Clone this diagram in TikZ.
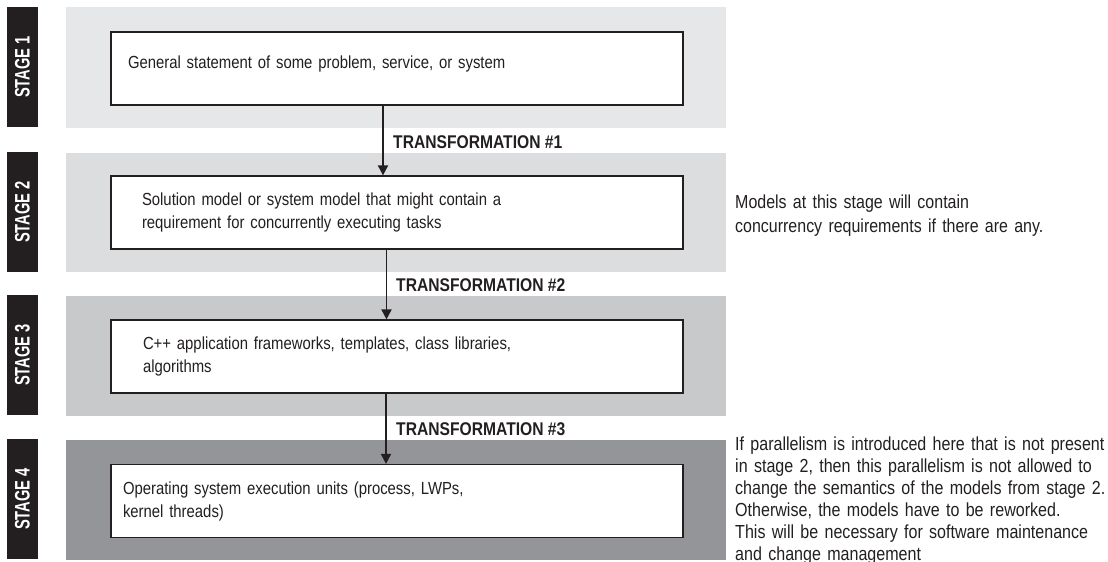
\documentclass[tikz,border=0pt]{standalone}
\usepackage{fontspec}
\setmainfont{Liberation Sans}[FakeStretch=0.85]
\newfontfamily\stagefont{Liberation Sans}[FakeStretch=0.7]
\usetikzlibrary{arrows.meta}
\definecolor{bandone}{HTML}{E6E7E8}
\definecolor{bandtwo}{HTML}{DCDDDE}
\definecolor{bandthree}{HTML}{C8C9CB}
\definecolor{bandfour}{HTML}{939598}
\definecolor{ink}{HTML}{231F20}
\tikzset{
  stagebox/.style={draw=ink,line width=1.2pt,fill=white,minimum width=572pt,minimum height=73pt,
    inner xsep=0pt,align=left,text width=#1,font=\fontsize{17.5}{23}\selectfont,text=ink},
  stagetag/.style={fill=ink,rotate=90,minimum width=120pt,minimum height=31pt,inner sep=0pt,
    text=white,font=\stagefont\bfseries\fontsize{21}{21}\selectfont},
  translabel/.style={anchor=west,inner sep=0pt,font=\bfseries\fontsize{18.4}{21}\selectfont,text=ink},
  sidenote/.style={anchor=north west,inner sep=0pt,align=left,text width=400pt,text=ink},
  flow/.style={draw=ink,line width=1.8pt,-{Triangle[length=10pt,width=10pt]}}
}
\begin{document}
\begin{tikzpicture}[x=1pt,y=-1pt]
\useasboundingbox (0,0) rectangle (1108,562);
%\draw[step=50,very thin,color=gray] (0,0) grid (1108,562);
\fill[bandone] (66,7) rectangle (726,128);
\fill[bandtwo] (66,153) rectangle (726,272);
\fill[bandthree] (66,296) rectangle (726,416);
\fill[bandfour] (66,440) rectangle (726,560);
\node[stagetag] (tag1) at (22.5,67) {STAGE 1};
\node[stagetag] (tag2) at (22.5,212) {STAGE 2};
\node[stagetag] (tag3) at (22.5,355) {STAGE 3};
\node[stagetag] (tag4) at (22.5,499) {STAGE 4};
\node[stagebox=538pt,text depth=12pt] (general) at (397,68.5) {General statement of some problem, service, or system};
\node[stagebox=510pt] (solution) at (397,212.5) {Solution model or system model that might contain a\\ requirement for concurrently executing tasks};
\node[stagebox=508pt] (cpp) at (397,356.5) {C++ application frameworks, templates, class libraries,\\ algorithms};
\node[stagebox=548pt] (osunits) at (397,501) {Operating system execution units (process, LWPs,\\ kernel threads)};
\draw[flow] ([xshift=-14pt]general.south) -- ([xshift=-14pt]solution.north);
\draw[flow] ([xshift=-10.5pt]solution.south) -- ([xshift=-10.5pt]cpp.north);
\draw[flow] ([xshift=-11pt]cpp.south) -- ([xshift=-11pt]osunits.north);
\node[translabel] (trans1) at (393,142) {TRANSFORMATION \#1};
\node[translabel] (trans2) at (396,285) {TRANSFORMATION \#2};
\node[translabel] (trans3) at (396,429) {TRANSFORMATION \#3};
\node[sidenote,font=\fontsize{18.8}{23.5}\selectfont] (note2) at (735,195) {Models at this stage will contain\\ concurrency requirements if there are any.};
\node[sidenote,font=\fontsize{18.9}{22}\selectfont] (note4) at (735,437) {If parallelism is introduced here that is not present\\ in stage 2, then this parallelism is not allowed to\\ change the semantics of the models from stage 2.\\ Otherwise, the models have to be reworked.\\ This will be necessary for software maintenance\\ and change management};
\end{tikzpicture}
\end{document}
